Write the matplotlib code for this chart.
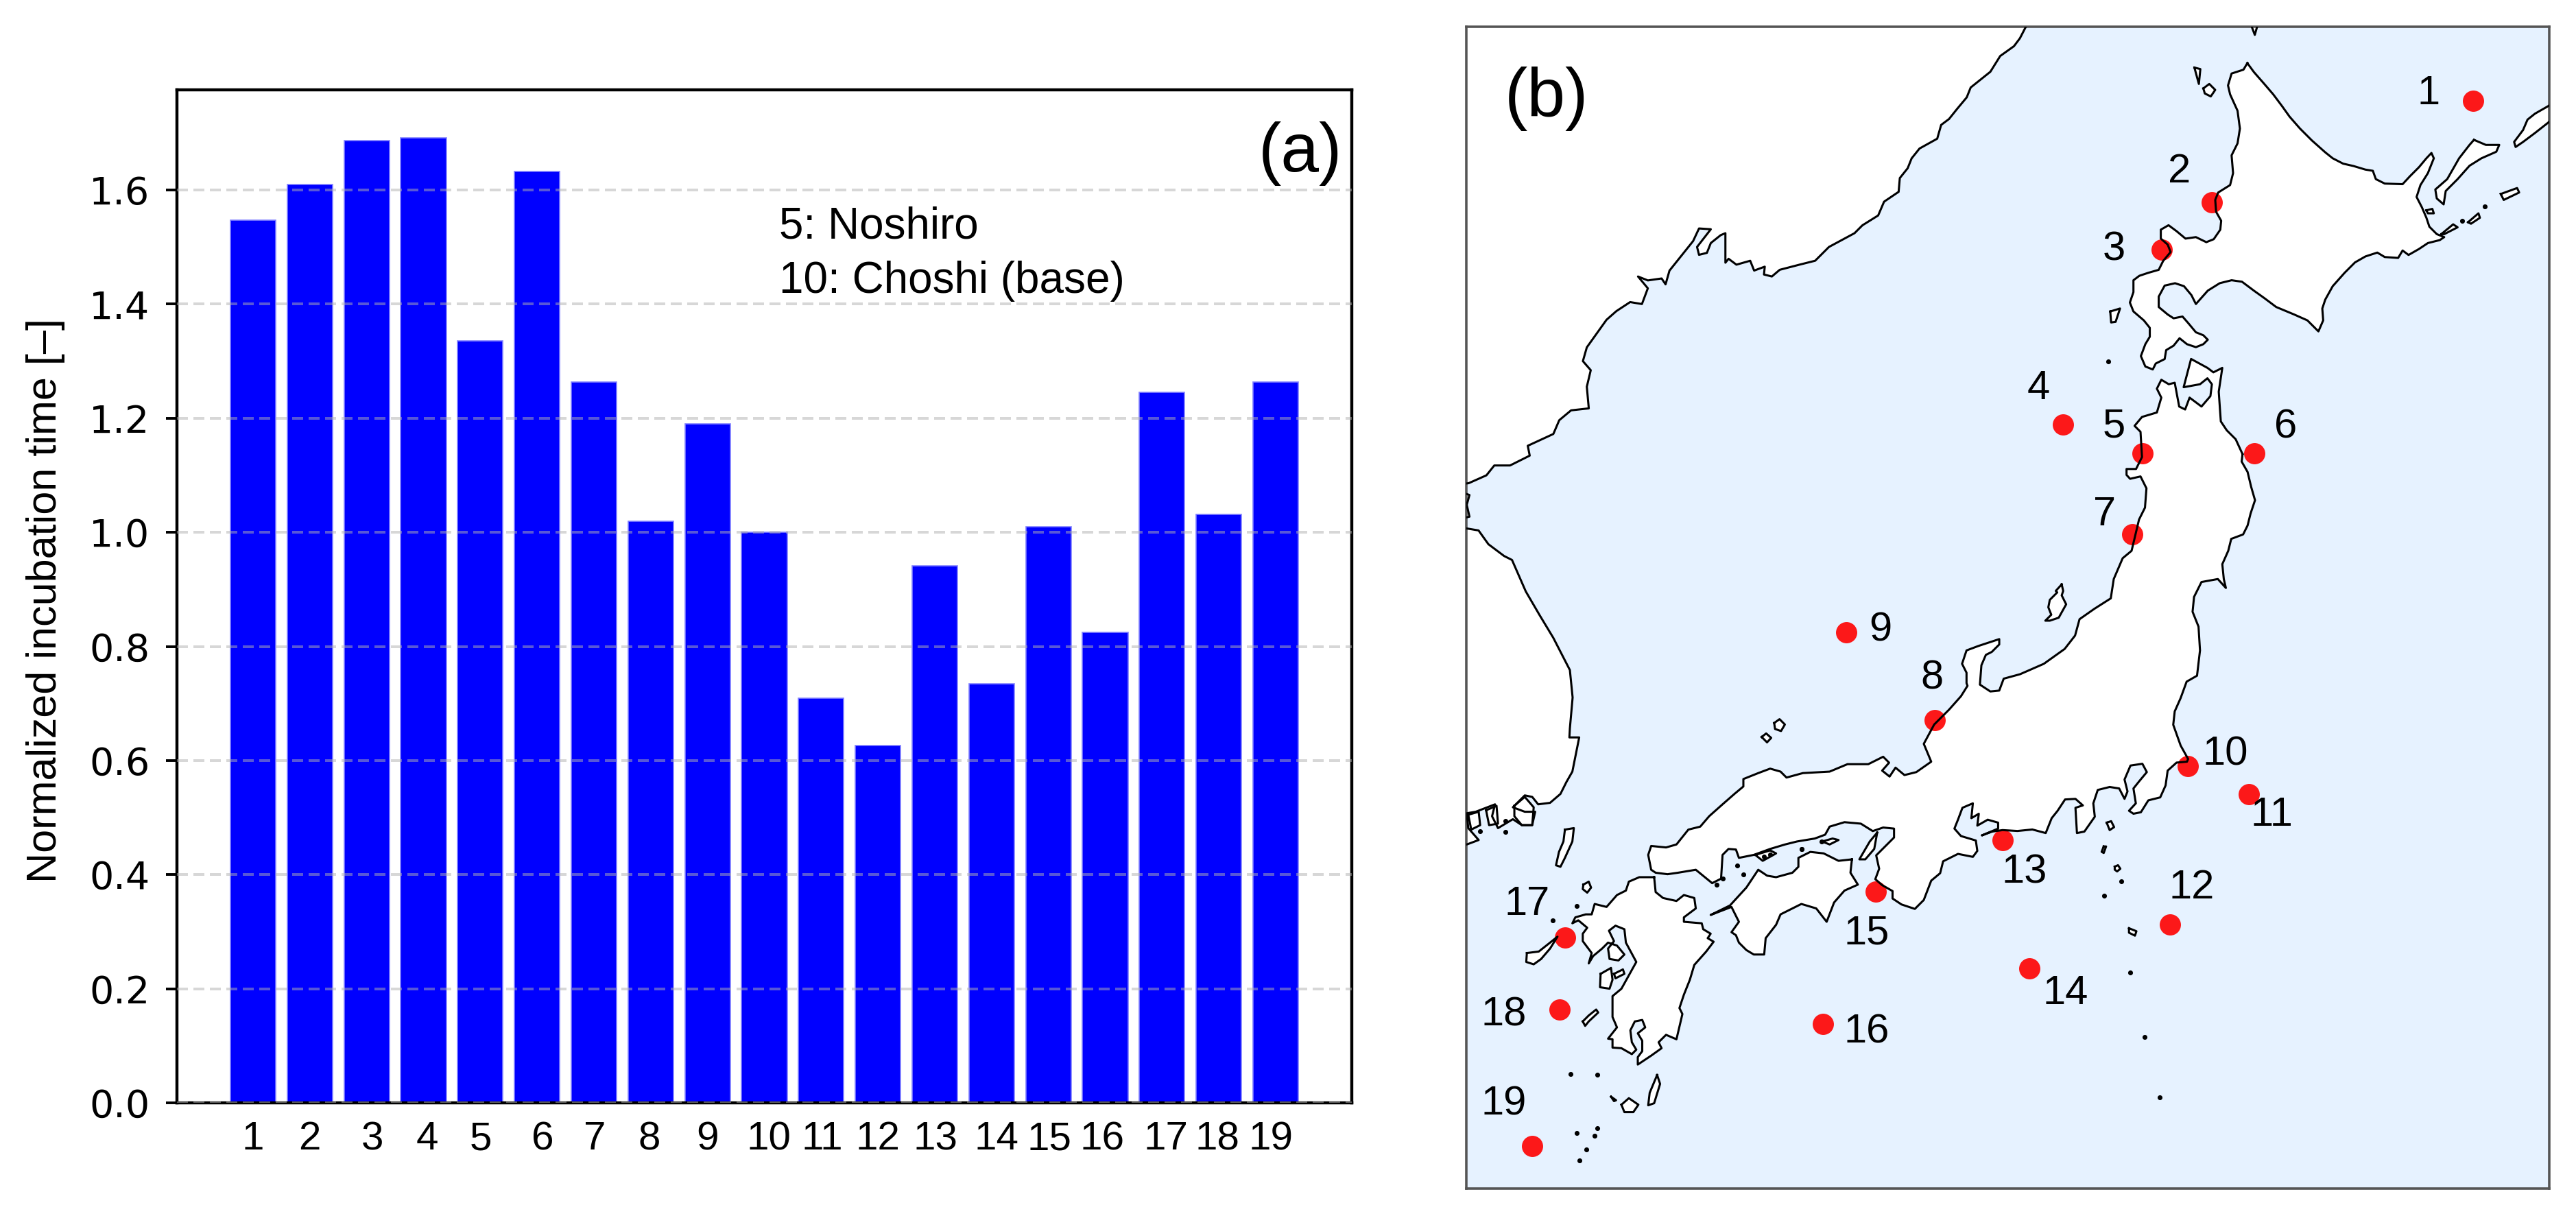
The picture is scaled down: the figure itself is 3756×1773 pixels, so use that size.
import matplotlib
matplotlib.use('Agg')
import matplotlib.pyplot as plt
from matplotlib.transforms import Affine2D

W, H = 3756, 1773
SANS = 'Liberation Sans'

# bar chart values
sites = list(range(1, 19 + 1))
incubation = [1.547, 1.61, 1.686, 1.691, 1.335, 1.633, 1.264, 1.02, 1.19, 1.0,
              0.709, 0.626, 0.941, 0.735, 1.01, 0.825, 1.246, 1.031, 1.264]
label_shift = [0, -1, 8, 5, 1, 8, 1, -2, 0, 6, 1, 0, 1, 7, 1, -4, 6, -2, -7]
y_ticks = [0.0, 0.2, 0.4, 0.6, 0.8, 1.0, 1.2, 1.4, 1.6]

# map sites, in picture pixels
site_x = [3606, 3225, 3152, 3008, 3124, 3287, 3109, 2821, 2692, 3190,
          3279, 3164, 2920, 2959, 2735, 2658, 2282, 2274, 2234]
site_y = [147, 295, 364, 619, 661, 661, 779, 1050, 922, 1117,
          1158, 1348, 1225, 1412, 1300, 1493, 1367, 1472, 1671]
label_x = [3541, 3178, 3082, 2972, 3082, 3333, 3069, 2817, 2742, 3245,
           3312, 3196, 2952, 3012, 2722, 2722, 2227, 2193, 2193]
label_y = [136, 250, 364, 566, 622, 623, 750, 989, 919, 1100,
           1189, 1294, 1272, 1448, 1361, 1505, 1319, 1480, 1610]

# coast outlines, each list in its own crop coordinates
mainland_north = [(1435, -20), (1435, 16), (1420, 45), (1405, 65), (1370, 90), (1345, 130), (1295, 170), (1285, 195),
                  (1260, 225), (1240, 250), (1220, 265), (1210, 300), (1165, 325), (1145, 350), (1135, 375),
                  (1115, 400), (1112, 435), (1075, 460), (1060, 495), (1020, 520), (1000, 540), (935, 575),
                  (900, 610), (860, 620), (810, 633), (790, 650), (770, 645), (772, 625), (745, 635), (735, 610),
                  (700, 620), (680, 605), (672, 615), (672, 540), (660, 545), (635, 565), (625, 590), (605, 595),
                  (600, 575), (635, 530), (605, 528), (590, 560), (550, 610), (530, 635), (520, 670), (510, 655),
                  (475, 660), (450, 650), (475, 680), (460, 720), (430, 715), (395, 738), (370, 760), (345, 795),
                  (320, 830), (310, 865), (330, 888), (320, 930), (325, 985), (280, 990), (250, 1015), (235, 1050),
                  (170, 1080), (175, 1105), (125, 1130), (85, 1130), (65, 1155), (20, 1175), (-20, 1180), (-20, -20)]
left_sliver = [(-20, 1190), (22, 1205), (15, 1230), (22, 1260), (-20, 1270)]
korea_a = [(-20, 1290), (15, 1290), (45, 1295), (70, 1330), (110, 1360), (130, 1370), (165, 1450), (200, 1510),
           (235, 1568)]
korea_b = [(2289, 977), (2293, 1017), (2289, 1062)]
korea_c = [(365, 35), (398, 35), (385, 100), (375, 150), (355, 185), (335, 225), (300, 255), (260, 260), (240, 235),
           (215, 230), (175, 270), (215, 285), (250, 285), (240, 330), (205, 330), (175, 310), (125, 340),
           (105, 300), (115, 260), (50, 285), (20, 290), (25, 340), (60, 380), (20, 395), (-20, 395)]

hokkaido = [(523, 120), (545, 150), (580, 190), (610, 225), (640, 265), (665, 300), (700, 340), (740, 380), (785, 420),
            (810, 440), (845, 458), (880, 466), (920, 478), (945, 482), (955, 510), (985, 525), (1045, 527),
            (1070, 500), (1100, 470), (1125, 440), (1142, 422), (1150, 440), (1130, 490), (1105, 530), (1092, 570),
            (1110, 605), (1125, 640), (1135, 670), (1160, 695), (1185, 705), (1170, 715), (1130, 725), (1100, 745),
            (1065, 765), (1045, 750), (1030, 775), (985, 772), (960, 757), (920, 770), (885, 790), (850, 825),
            (810, 870), (785, 915), (775, 945), (778, 985), (762, 1022), (745, 1005), (725, 985), (680, 965),
            (620, 940), (580, 910), (545, 885), (505, 855), (470, 850), (430, 860), (390, 885), (350, 930),
            (335, 900), (310, 870), (280, 860), (245, 868), (225, 905), (225, 940), (255, 965), (275, 978),
            (305, 972), (325, 995), (350, 1025), (375, 1035), (390, 1050), (375, 1065), (350, 1075), (320, 1065),
            (295, 1045), (275, 1070), (250, 1085), (245, 1115), (215, 1130), (205, 1150), (180, 1140), (165, 1105),
            (180, 1065), (195, 1040), (195, 1010), (175, 985), (140, 955), (128, 925), (140, 890), (140, 850),
            (160, 835), (190, 825), (225, 815), (240, 785), (265, 755), (255, 730), (232, 710), (232, 680),
            (258, 665), (285, 685), (315, 710), (350, 705), (385, 722), (410, 712), (432, 680), (435, 650),
            (418, 620), (415, 580), (425, 555), (465, 530), (475, 490), (470, 430), (490, 390), (498, 340),
            (490, 280), (465, 225), (458, 195), (470, 155), (510, 142)]

honshu_east = [(968, 420), (965, 445), (985, 480), (997, 530), (1010, 575), (995, 620), (985, 660), (970, 690),
               (930, 705), (920, 745), (900, 790), (905, 840), (912, 870), (885, 840), (830, 850), (805, 900),
               (800, 950), (820, 1000), (825, 1080), (815, 1165), (780, 1185), (760, 1240), (740, 1285), (735, 1330),
               (760, 1400), (785, 1445)]
honshu_south = [(1450, 255), (1415, 258), (1385, 285), (1378, 335), (1360, 375), (1320, 385), (1295, 425), (1270, 430),
                (1255, 420), (1278, 395), (1270, 345), (1290, 320), (1315, 290), (1300, 262), (1260, 268), (1240, 315),
                (1250, 355), (1240, 380), (1222, 345), (1190, 340), (1150, 350), (1135, 395), (1140, 440), (1105, 490),
                (1080, 495), (1075, 410), (1100, 402), (1075, 380), (1040, 382), (1015, 420), (995, 445), (975, 495),
                (930, 483), (880, 488), (830, 485), (795, 490), (760, 503), (815, 480), (815, 460), (780, 450),
                (745, 470), (750, 430), (725, 445), (730, 395), (695, 410), (680, 450), (668, 480), (690, 505),
                (740, 520), (745, 555), (730, 575), (680, 565), (630, 590), (620, 630), (590, 655), (565, 720),
                (535, 750), (490, 735), (460, 715), (460, 690), (425, 670), (402, 650), (415, 615), (405, 570),
                (435, 540), (465, 510), (465, 480)]
honshu_west = [(1420, 338), (1385, 350), (1345, 325), (1290, 320), (1240, 335), (1225, 362), (1190, 375), (1130, 385),
               (1090, 395), (1040, 410), (985, 430), (935, 440), (925, 412), (900, 410), (880, 430), (875, 510),
               (845, 525), (790, 480), (730, 490), (695, 495), (655, 490), (640, 480), (630, 430), (640, 400),
               (690, 405), (725, 395), (765, 345), (805, 335), (835, 300), (880, 260), (920, 225), (950, 200),
               (950, 175), (1000, 155), (1040, 140), (1075, 150), (1095, 170), (1150, 155), (1240, 150), (1300, 125),
               (1370, 125), (1420, 100), (1440, 120)]
honshu_north_a = [(425, 285), (450, 305), (470, 275), (500, 300), (540, 290), (590, 255), (565, 195), (600, 130),
                  (650, 80), (690, 35), (712, 0)]
honshu_north_b = [(40, 1190), (40, 1155), (25, 1125), (40, 1080), (80, 1065), (150, 1042), (150, 1060), (125, 1085),
                  (105, 1095), (90, 1130), (85, 1195), (120, 1218), (150, 1215), (165, 1175), (220, 1160), (300, 1125),
                  (370, 1075), (405, 1030), (420, 975), (470, 940), (525, 905), (535, 840), (565, 770), (595, 745),
                  (620, 640), (640, 600), (645, 535), (625, 495), (590, 503), (578, 490), (578, 470), (610, 470),
                  (630, 430), (625, 345), (605, 325), (630, 295), (680, 280), (695, 230), (680, 200), (695, 170),
                  (720, 185), (740, 180), (755, 260), (775, 270), (790, 230), (830, 260), (860, 225), (865, 185),
                  (850, 165), (825, 185), (770, 195), (795, 100), (850, 130), (870, 145), (900, 130), (888, 210),
                  (895, 310), (915, 340), (945, 370)]

shikoku = [(1315, 445), (1310, 490), (1335, 530), (1290, 550), (1255, 590), (1230, 655), (1195, 610), (1145, 595),
           (1075, 630), (1060, 665), (1025, 710), (1020, 765), (985, 765), (960, 750), (935, 725), (925, 700),
           (910, 690), (935, 655), (910, 605), (840, 632), (905, 600), (960, 540), (1000, 480), (1030, 500),
           (1060, 505), (1115, 490), (1135, 470), (1135, 440), (1175, 420), (1220, 425), (1270, 450)]
kyushu = [(650, 505), (655, 555), (680, 575), (725, 585), (750, 565), (785, 575), (790, 610), (750, 640), (750, 655),
          (810, 660), (815, 680), (840, 695), (830, 710), (850, 722), (825, 755), (785, 800), (770, 850), (750, 900),
          (735, 945), (745, 965), (725, 1050), (690, 1035), (665, 1060), (675, 1080), (640, 1105), (595, 1135),
          (595, 1110), (610, 1090), (610, 1055), (595, 1030), (620, 1010), (610, 985), (585, 990), (570, 1020),
          (575, 1060), (590, 1085), (575, 1100), (540, 1080), (510, 1078), (510, 1050), (495, 1048), (525, 1010),
          (510, 975), (510, 905), (540, 880), (590, 790), (555, 725), (550, 680), (520, 668), (498, 685), (515, 720),
          (495, 745), (500, 780), (530, 785), (550, 765), (525, 735), (495, 725), (475, 745), (445, 770), (430, 795),
          (440, 760), (410, 720), (410, 695), (425, 675), (395, 650), (375, 660), (385, 640), (420, 630), (440, 630),
          (450, 595), (490, 605), (525, 565), (555, 550), (565, 520), (600, 505)]

# small islands, crop of the Sea of Japan side and the south-west
islands_west = [
    [(350, 345), (380, 340), (375, 385), (350, 440), (335, 470), (320, 465), (330, 420), (345, 385)],
    [(412, 530), (430, 520), (438, 540), (425, 557), (410, 545)],
    [(222, 760), (262, 755), (300, 725), (325, 705), (300, 745), (270, 780), (245, 798), (220, 790)],
    [(410, 990), (430, 970), (455, 950), (462, 960), (430, 990), (418, 1005)],
    [(660, 1170), (670, 1200), (650, 1265), (630, 1272), (635, 1230)],
    [(540, 1270), (565, 1248), (597, 1270), (580, 1295), (550, 1295)],
    [(470, 830), (505, 810), (510, 850), (500, 880), (468, 875)],
    [(515, 830), (545, 815), (550, 830), (520, 845)],
    [(1215, 385), (1250, 375), (1270, 380), (1240, 395)],
    [(990, 430), (1040, 415), (1060, 425), (1015, 450)],
    [(1400, 355), (1375, 385), (1340, 445), (1360, 445), (1390, 410)],
    [(505, 1243), (522, 1255), (515, 1258)],
    [(180, 265), (215, 235), (245, 270), (240, 330), (205, 330), (180, 300)],
    [(85, 280), (120, 265), (125, 325), (95, 330)],
    [(25, 295), (60, 285), (65, 330), (35, 345)],
]
dots_west = [(370, 1167), (460, 1170), (390, 1365), (458, 1350), (450, 1375), (423, 1420), (400, 1457), (310, 650),
             (150, 352), (1147, 410), (950, 495), (930, 465), (390, 603), (880, 510), (860, 530), (1213, 385),
             (65, 350), (150, 315), (1020, 435), (1040, 430)]

islands_north = [
    [(345, 135), (365, 140), (360, 190)],
    [(375, 205), (395, 190), (415, 210), (400, 232), (380, 222)],
    [(62, 955), (95, 945), (80, 990), (65, 992)],
    [(1285, 378), (1325, 395), (1370, 395), (1360, 418), (1310, 440), (1270, 465), (1230, 510), (1190, 550),
     (1183, 595), (1160, 575), (1155, 545), (1195, 510), (1235, 440), (1270, 395)],
    [(1560, 250), (1490, 290), (1465, 310), (1450, 345), (1420, 385), (1425, 402), (1450, 385), (1490, 355),
     (1560, 300)],
    [(1375, 560), (1430, 540), (1437, 555), (1385, 580)],
    [(1175, 695), (1215, 662), (1230, 672), (1185, 695)],
    [(1265, 655), (1300, 625), (1305, 640), (1275, 660)],
    [(1125, 615), (1145, 610), (1150, 625), (1130, 625)],
    [(535, -10), (548, 25), (558, -10)],
]
dots_north = [(55, 1122), (1245, 650), (1322, 602)]

sado = [(360, 858), (365, 880), (360, 895), (375, 925), (350, 970), (320, 980), (305, 980), (325, 960), (315, 935),
        (320, 910), (345, 885), (340, 880)]

islands_south = [
    [(62, 125), (80, 112), (98, 130), (85, 152), (65, 145)],
    [(20, 172), (35, 160), (52, 175), (38, 190)],
    [(1180, 460), (1195, 455), (1205, 475), (1190, 485)],
    [(1170, 540), (1178, 540), (1170, 562), (1163, 558)],
    [(1207, 608), (1218, 603), (1226, 615), (1215, 624), (1207, 618)],
    [(1255, 815), (1280, 825), (1275, 840), (1255, 830)],
]
dots_south = [(1229, 657), (1172, 705), (1258, 965), (1308, 1180), (1358, 1383), (155, 548)]


def to_px(x0, y0, scale, pts):
    return [(x0 + x / scale, y0 + y / scale) for x, y in pts]


Z = 2.306
NORTH = (3050, 40, Z)
MID = (2850, 480, Z)
SOUTH = (2560, 1000, Z)
WEST = (2130, 1060, Z)
TOP = (2130, 30, 1.742)

land = [
    to_px(*TOP, mainland_north),
    to_px(*TOP, left_sliver),
    to_px(*TOP, korea_a) + korea_b + to_px(*WEST, korea_c) + [(2100, 1240)],
    to_px(*NORTH, hokkaido),
    to_px(*MID, honshu_east) + to_px(*SOUTH, honshu_south) + to_px(*WEST, honshu_west)
    + to_px(*SOUTH, honshu_north_a) + to_px(*MID, honshu_north_b),
    to_px(*WEST, shikoku),
    to_px(*WEST, kyushu),
    to_px(*MID, sado),
]
land += [to_px(*WEST, p) for p in islands_west]
land += [to_px(*NORTH, p) for p in islands_north]
land += [to_px(*SOUTH, p) for p in islands_south]
dots = to_px(*WEST, dots_west) + to_px(*NORTH, dots_north) + to_px(*SOUTH, dots_south)

fig = plt.figure(figsize=(W / 100, H / 100), dpi=100)

# (a) bars
ax = fig.add_axes([258 / W, 1 - 1608 / H, 1713 / W, 1477 / H])
ax.bar(sites, incubation, color='#0000ff', edgecolor='#8080ff', linewidth=1.2)
ax.set_axisbelow(False)
ax.yaxis.grid(True, color='#b0b0b0', alpha=0.5, linewidth=2.88, linestyle=(0, (4, 2)))
ax.set_yticks(y_ticks)
ax.set_yticklabels([f'{v:.1f}' for v in y_ticks], fontsize=40, family='DejaVu Sans')
ax.set_xticks(sites)
ax.set_xticklabels([str(s) for s in sites], fontsize=42, family=SANS)
ax.tick_params(axis='y', length=11.5, width=2.8, pad=17)
ax.tick_params(axis='x', length=0, pad=19)
for lab, dx in zip(ax.get_xticklabels(), label_shift):
    lab.set_transform(lab.get_transform() + Affine2D().translate(dx, 0))
for sp in ax.spines.values():
    sp.set_linewidth(3.2)
ax.set_ylabel('Normalized incubation time [\u2013]', fontsize=44, family=SANS, va='center')
ax.yaxis.set_label_coords((67 - 258) / 1713, 0.496)
ax.text(0.5125, 0.865, '5: Noshiro', transform=ax.transAxes, fontsize=46, family=SANS, va='center')
ax.text(0.5125, 0.811, '10: Choshi (base)', transform=ax.transAxes, fontsize=46, family=SANS, va='center')
ax.text(0.992, 0.937, '(a)', transform=ax.transAxes, fontsize=72, family=SANS, ha='right', va='center')

# (b) map
ax2 = fig.add_axes([2138 / W, 1 - 1733 / H, 1579 / W, 1694 / H])
ax2.set_xlim(2138, 3717)
ax2.set_ylim(1733, 39)
ax2.set_facecolor('#e6f2ff')
for pts in land:
    xs, ys = zip(*pts)
    ax2.fill(xs, ys, color='white', linewidth=0, zorder=1)
ax2.scatter(site_x, site_y, s=497, color='red', alpha=0.9, linewidths=0, zorder=2)
for pts in land:
    xs, ys = zip(*(pts + pts[:1]))
    ax2.plot(xs, ys, color='black', linewidth=2.2, solid_joinstyle='round', zorder=3)
xs, ys = zip(*dots)
ax2.scatter(xs, ys, s=26, color='black', linewidths=0, zorder=3)
for s, x, y in zip(sites, label_x, label_y):
    ax2.text(x, y, str(s), fontsize=43, family=SANS, ha='center', va='center', zorder=4)
ax2.text(2194, 144, '(b)', fontsize=72, family=SANS, ha='left', va='center', zorder=4)
ax2.set_xticks([])
ax2.set_yticks([])
for sp in ax2.spines.values():
    sp.set_linewidth(2.6)
    sp.set_edgecolor('#555555')

fig.savefig('out.png', dpi=100)
